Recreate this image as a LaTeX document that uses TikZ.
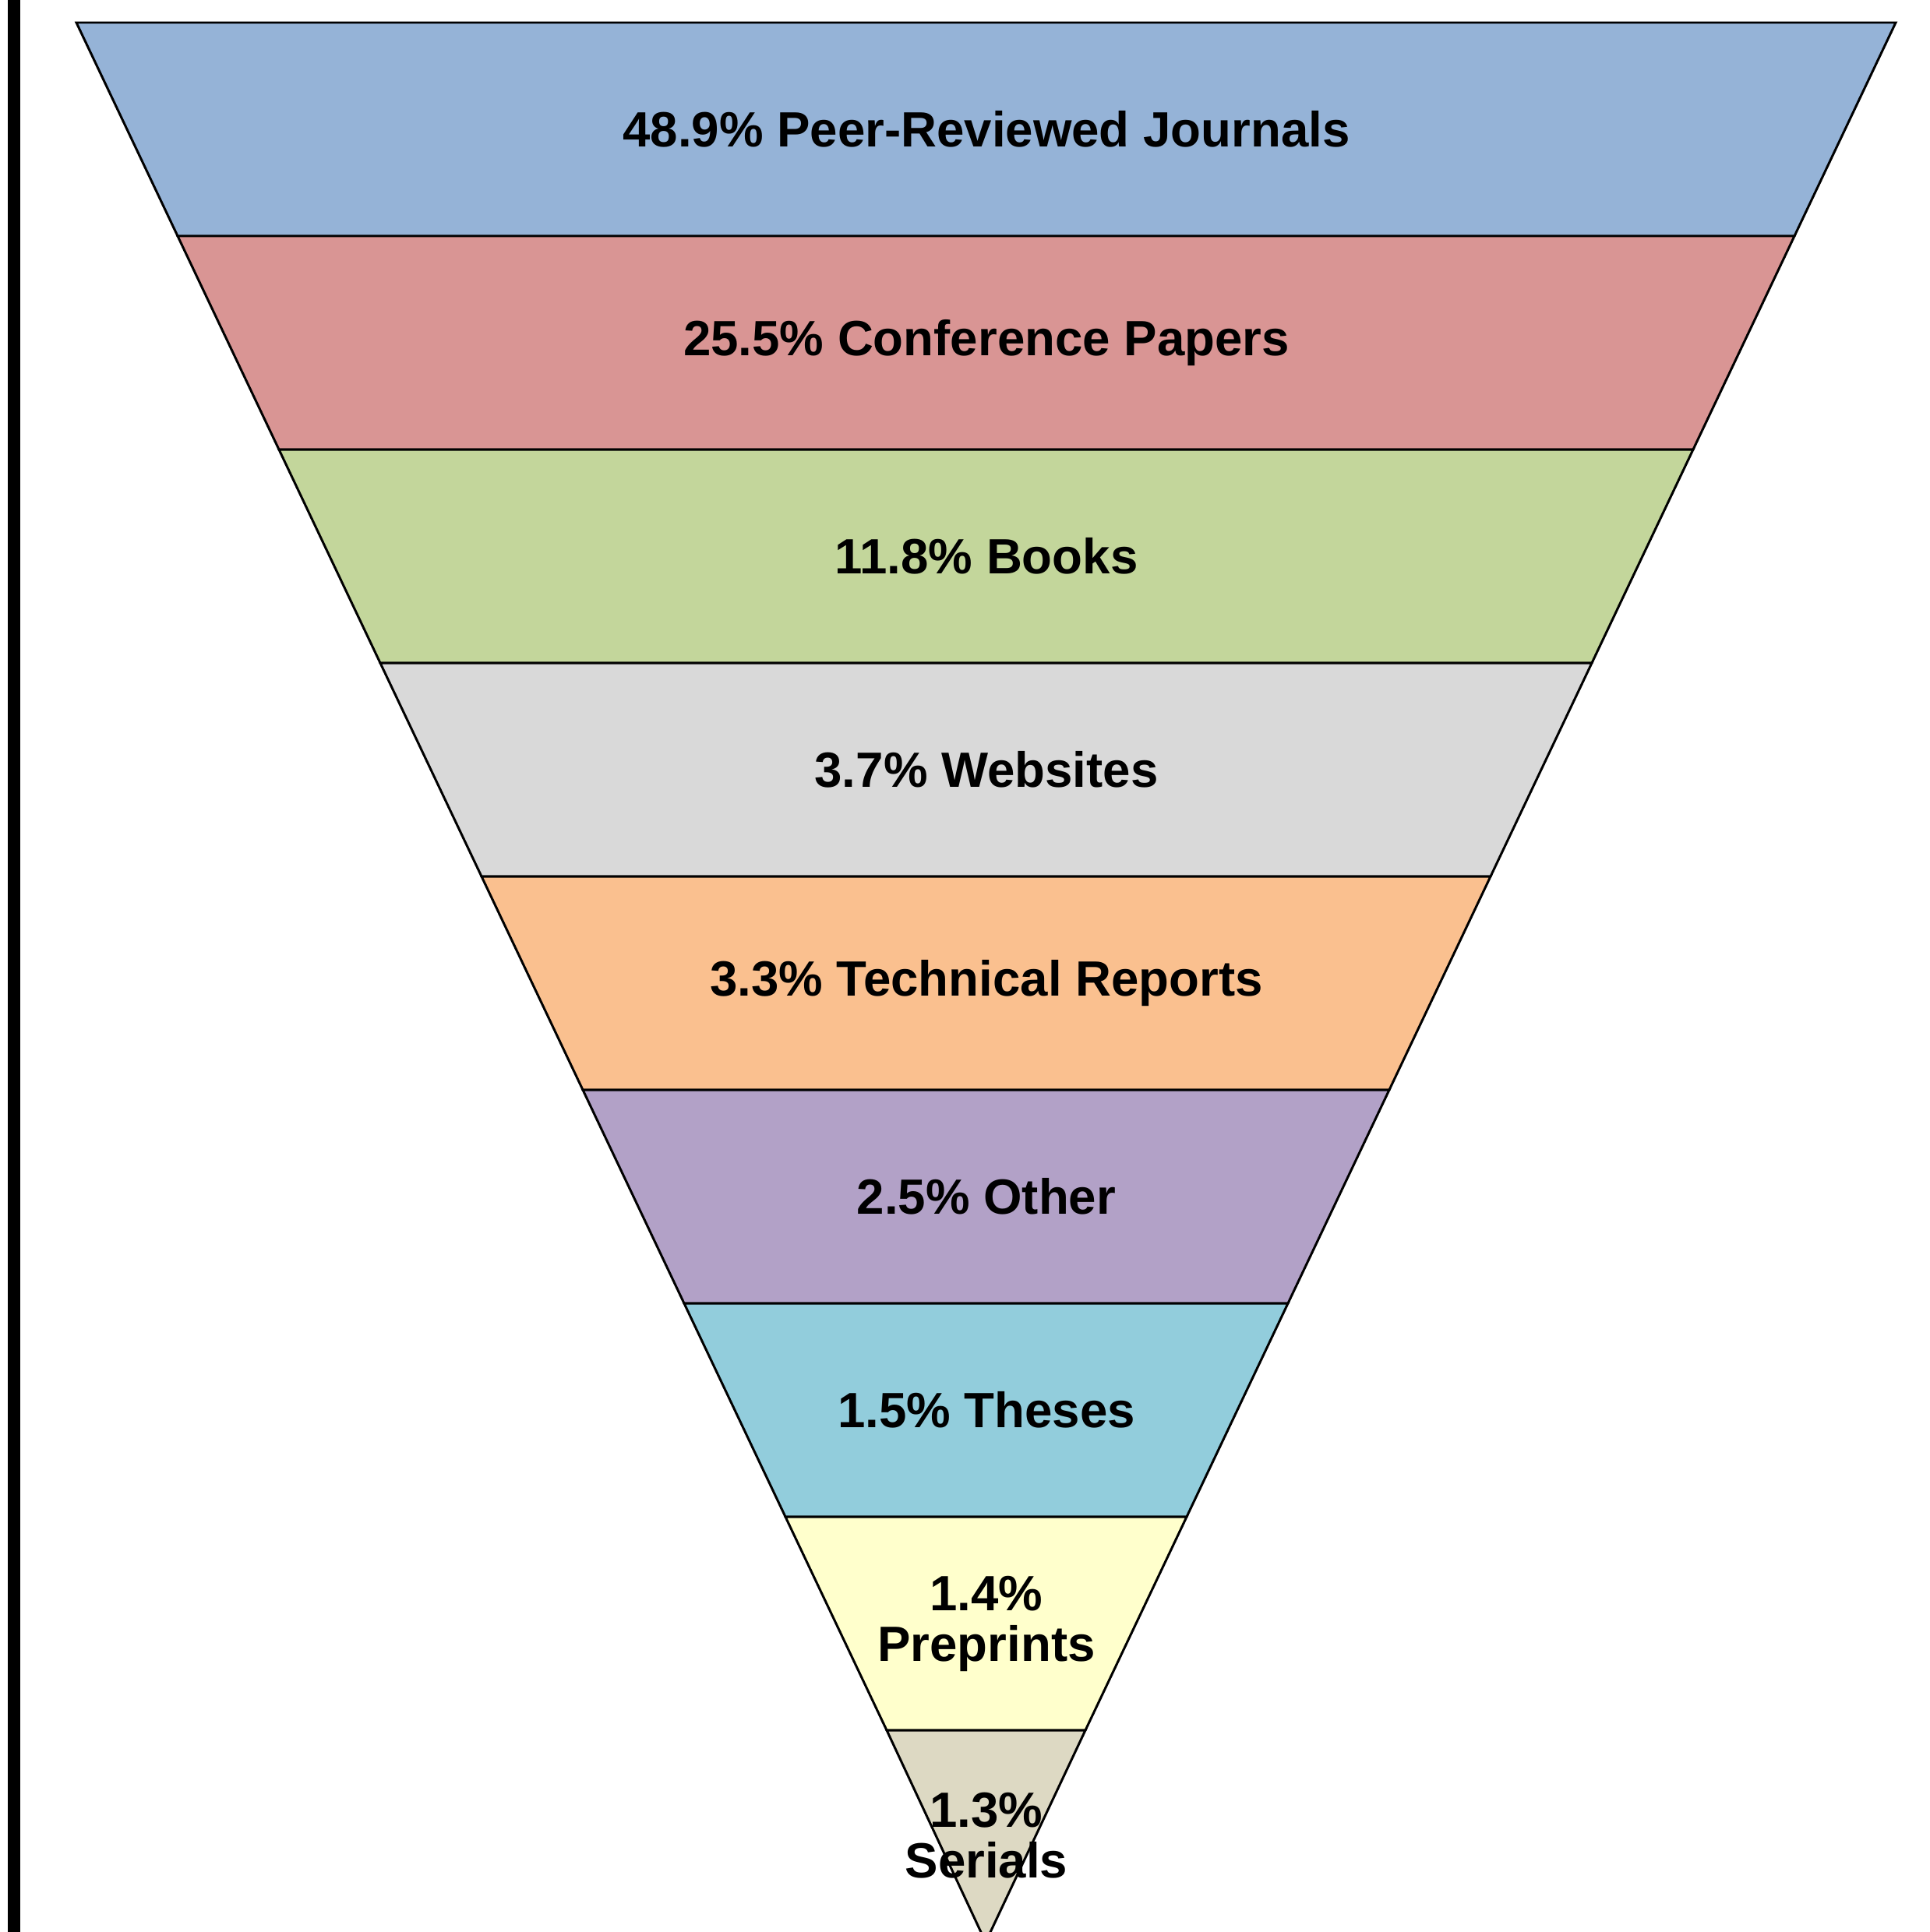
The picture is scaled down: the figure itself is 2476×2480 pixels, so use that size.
\documentclass[tikz,border=0pt]{standalone}
\usepackage{fontspec}
\setmainfont{Liberation Sans}
\usepackage{tikz}

\definecolor{cjournal}{HTML}{95B3D7}
\definecolor{cconf}{HTML}{D99594}
\definecolor{cbook}{HTML}{C3D69B}
\definecolor{cweb}{HTML}{D9D9D9}
\definecolor{creport}{HTML}{FAC08F}
\definecolor{cother}{HTML}{B2A1C7}
\definecolor{cthesis}{HTML}{92CDDC}
\definecolor{cpre}{HTML}{FFFFCC}
\definecolor{cserial}{HTML}{DDD9C3}

\begin{document}
\begin{tikzpicture}[x=0.1mm,y=-0.1mm,
		band/.style={draw=black,line width=0.85pt,line join=miter},
		lbl/.style={font=\fontsize{18.1}{18.5}\selectfont\bfseries,align=center,inner sep=0pt}]
		\useasboundingbox[fill=white] (0,0) rectangle (2476,2480);
		\clip (0,0) rectangle (2476,2480);
		\fill[black] (10,0) rectangle (26,2480);
		
		\draw[band,fill=cjournal] (98,29)--(2433,29)--(2303,303)--(228,303)--cycle;
		\draw[band,fill=cconf] (228,303)--(2303,303)--(2173,577)--(358,577)--cycle;
		\draw[band,fill=cbook] (358,577)--(2173,577)--(2043,851)--(488,851)--cycle;
		\draw[band,fill=cweb] (488,851)--(2043,851)--(1913,1125)--(618,1125)--cycle;
		\draw[band,fill=creport] (618,1125)--(1913,1125)--(1783,1399)--(748,1399)--cycle;
		\draw[band,fill=cother] (748,1399)--(1783,1399)--(1653,1673)--(878,1673)--cycle;
		\draw[band,fill=cthesis] (878,1673)--(1653,1673)--(1523,1947)--(1008,1947)--cycle;
		\draw[band,fill=cpre] (1008,1947)--(1523,1947)--(1393,2221)--(1138,2221)--cycle;
		\draw[band,fill=cserial] (1138,2221)--(1393,2221)--(1265,2493)--cycle;
		
		\node (journal) [lbl] at (1266,166) {48.9\% Peer-Reviewed Journals};
		\node (conf) [lbl] at (1266,440) {25.5\% Conference Papers};
		\node (book) [lbl] at (1266,714) {11.8\% Books};
		\node (web) [lbl] at (1266,988) {3.7\% Websites};
		\node (report) [lbl] at (1266,1262) {3.3\% Technical Reports};
		\node (other) [lbl] at (1266,1536) {2.5\% Other};
		\node (thesis) [lbl] at (1266,1810) {1.5\% Theses};
		\node (pre) [lbl] at (1266,2084) {1.4\%\\Preprints};
		\node (serial) [lbl] at (1266,2356) {1.3\%\\Serials};
	\end{tikzpicture}
\end{document}
